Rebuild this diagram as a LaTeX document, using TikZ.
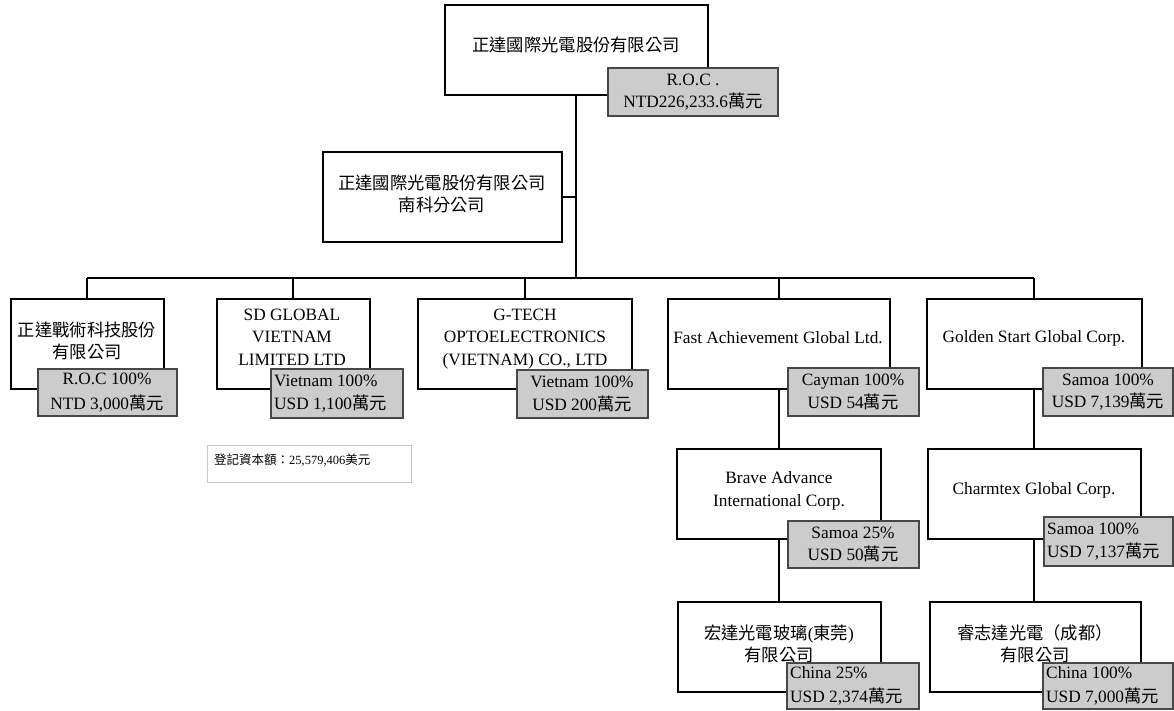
\documentclass[tikz,border=0pt]{standalone}
\usepackage{fontspec}
\setmainfont{Liberation Serif}
\newfontfamily\cjk{Noto Sans CJK TC}
\newcommand\zh[1]{{\cjk #1}}
\begin{document}
\begin{tikzpicture}[x=1pt,y=-1pt,
  box/.style={draw=black,line width=2pt,fill=white,inner sep=0pt},
  gbox/.style={draw=black!72,line width=1.4pt,fill=black!20,inner sep=0pt},
  note/.style={draw=black!22,line width=1pt,fill=white,inner sep=0pt},
  txt/.style={font=\fontsize{17.3}{22.5}\selectfont,inner sep=0pt,align=center},
  ltxt/.style={font=\fontsize{17.3}{23.5}\selectfont,inner sep=0pt,align=left,anchor=west},
  small/.style={font=\fontsize{12.5}{15}\selectfont,inner sep=0pt,anchor=west},
  conn/.style={line width=2.2pt,draw=black}]
\useasboundingbox (0,0) rectangle (1174,711);
\coordinate (busL) at (87,278);
\coordinate (busR) at (1034,278);
\coordinate (busM) at (576,278);
\coordinate (brJ) at (576,197);
% boxes
\node[box,minimum width=263pt,minimum height=90pt] (T) at (576,50) {};
\node[box,minimum width=239pt,minimum height=90pt] (B) at (442.5,197) {};
\node[box,minimum width=153pt,minimum height=90pt] (L1) at (87,344) {};
\node[box,minimum width=153pt,minimum height=90pt] (L2) at (293,344) {};
\node[box,minimum width=214pt,minimum height=90pt] (L3) at (525,344) {};
\node[box,minimum width=222pt,minimum height=90pt] (L4) at (779,344) {};
\node[box,minimum width=215pt,minimum height=90pt] (L5) at (1034,344) {};
\node[box,minimum width=204pt,minimum height=90pt] (M4) at (779,494) {};
\node[box,minimum width=213pt,minimum height=90pt] (M5) at (1034,494) {};
\node[box,minimum width=203pt,minimum height=90pt] (N4) at (779,647) {};
\node[box,minimum width=211pt,minimum height=90pt] (N5) at (1035,647) {};
% connector lines
\draw[conn] (T.south) -- (busM);
\draw[conn] (B.east) -- (brJ);
\draw[conn] (busL) -- (busR);
\draw[conn] (busL) -- (L1.north);
\draw[conn] (busL -| L2.north) -- (L2.north);
\draw[conn] (busL -| L3.north) -- (L3.north);
\draw[conn] (busL -| L4.north) -- (L4.north);
\draw[conn] (busR) -- (L5.north);
\draw[conn] (L4.south) -- (M4.north);
\draw[conn] (M4.south) -- (N4.north);
\draw[conn] (L5.south) -- (M5.north);
\draw[conn] (M5.south) -- (M5.south |- N5.north);
% box texts
\node[txt] at (576,45) {\zh{正達國際光電股份有限公司}};
\node[txt] at (442,194) {\zh{正達國際光電股份有限公司}\\\zh{南科分公司}};
\node[txt] at (87,341) {\zh{正達戰術科技股份}\\\zh{有限公司}};
\node[txt] at (292,337) {SD GLOBAL\\VIETNAM\\LIMITED LTD};
\node[txt] at (525,339) {G-TECH\\OPTOELECTRONICS\\(VIETNAM) CO., LTD};
\node[txt] at (778,338) {Fast Achievement Global Ltd.};
\node[txt] at (1034,338) {Golden Start Global Corp.};
\node[txt] at (779,491) {Brave Advance\\International Corp.};
\node[txt] at (1034,490) {Charmtex Global Corp.};
\node[txt] at (779,644) {\zh{宏達光電玻璃}(\zh{東莞})\\\zh{有限公司}};
\node[txt] at (1035,644) {\zh{睿志達光電（成都）}\\\zh{有限公司}};
% gray boxes
\node[gbox,minimum width=170pt,minimum height=48pt] (gT) at (693,92) {};
\node[txt] at (693,92) {R.O.C .\\NTD226,233.6\zh{萬元}};
\node[gbox,minimum width=139pt,minimum height=47pt] (g1) at (107.5,392.5) {};
\node[txt,font=\fontsize{17.3}{25}\selectfont] at (107,393) {R.O.C 100\%\\NTD 3,000\zh{萬元}};
\node[gbox,minimum width=132pt,minimum height=49pt] (g2) at (337,393.5) {};
\node[ltxt] at (274,393.5) {Vietnam 100\%\\USD 1,100\zh{萬元}};
\node[gbox,minimum width=131pt,minimum height=48pt] (g3) at (582.5,394) {};
\node[txt] at (582,394) {Vietnam 100\%\\USD 200\zh{萬元}};
\node[gbox,minimum width=131pt,minimum height=48pt] (g4) at (853.5,392) {};
\node[txt] at (853,392) {Cayman 100\%\\USD 54\zh{萬元}};
\node[gbox,minimum width=130pt,minimum height=48pt] (g5) at (1108,392) {};
\node[txt] at (1108,392) {Samoa 100\%\\USD 7,139\zh{萬元}};
\node[gbox,minimum width=131pt,minimum height=47pt] (g6) at (853.5,544.5) {};
\node[txt] at (853,544.5) {Samoa 25\%\\USD 50\zh{萬元}};
\node[gbox,minimum width=129pt,minimum height=49pt] (g7) at (1108.5,541.5) {};
\node[ltxt] at (1047,541.5) {Samoa 100\%\\USD 7,137\zh{萬元}};
\node[gbox,minimum width=132pt,minimum height=46pt] (g8) at (853,686) {};
\node[ltxt] at (790,686) {China 25\%\\USD 2,374\zh{萬元}};
\node[gbox,minimum width=130pt,minimum height=46pt] (g9) at (1108,686) {};
\node[ltxt] at (1046,686) {China 100\%\\USD 7,000\zh{萬元}};
% note
\node[note,minimum width=204pt,minimum height=37pt] (nt) at (309,463.5) {};
\node[small] at (214,460) {\zh{登記資本額：}25,579,406\zh{美元}};
\end{tikzpicture}
\end{document}
